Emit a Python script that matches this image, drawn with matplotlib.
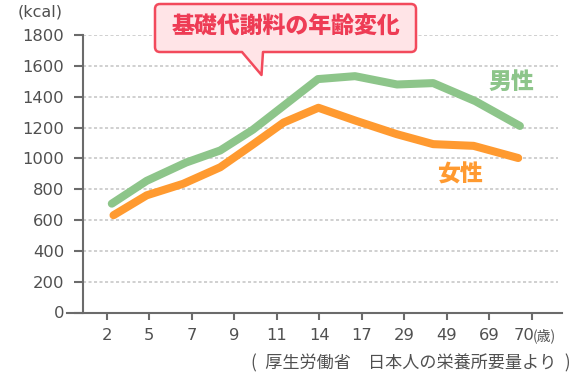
import matplotlib
matplotlib.use("Agg")
import matplotlib.pyplot as plt
from matplotlib.path import Path
from matplotlib.patches import PathPatch

plt.rcParams["font.family"] = ["Noto Sans CJK JP", "DejaVu Sans"]

# age categories on the x axis
ages = ["2", "5", "7", "9", "11", "14", "17", "29", "49", "69", "70"]

# line vertices (x in category-index units, y in kcal)
male_x = [0.12, 0.94, 1.87, 2.67, 3.44, 4.97, 5.84, 6.83, 7.68, 8.67, 9.72]
male_y = [706, 854, 973, 1051, 1186, 1514, 1533, 1479, 1488, 1371, 1210]
female_x = [0.16, 0.94, 1.80, 2.67, 3.45, 4.16, 4.98, 5.88, 6.82, 7.68, 8.63, 9.68]
female_y = [631, 760, 835, 942, 1092, 1232, 1328, 1242, 1157, 1092, 1081, 1002]

yticks = [0, 200, 400, 600, 800, 1000, 1200, 1400, 1600, 1800]

W, H = 580, 376
fig = plt.figure(figsize=(W / 100, H / 100), dpi=100)
ax = fig.add_axes([67 / W, 1 - 312.5 / H, 495 / W, 277.5 / H])

xmin, xmax = -0.934, 10.71
yaxis_x = -0.558
ax.set_xlim(xmin, xmax)
ax.set_ylim(0, 1800)

axis_col = "#6b6b6b"
text_col = "#505050"
green = "#8dc58a"
orange = "#ff9a30"
num_font = "DejaVu Sans"

# dotted grid lines
for v in yticks[1:]:
    ax.plot([yaxis_x, 10.62], [v, v], color="#c4c4c4", lw=1.1,
            linestyle=(0, (2, 1.6)), zorder=1)

ax.plot(male_x, male_y, color=green, lw=5.8, solid_capstyle="round",
        solid_joinstyle="round", zorder=3)
ax.plot(female_x, female_y, color=orange, lw=5.8, solid_capstyle="round",
        solid_joinstyle="round", zorder=4)

for s in ["top", "right"]:
    ax.spines[s].set_visible(False)
ax.spines["left"].set_position(("data", yaxis_x))
ax.spines["left"].set_bounds(0, 1800)
for s in ["left", "bottom"]:
    ax.spines[s].set_color(axis_col)
    ax.spines[s].set_linewidth(1.5)

ax.set_yticks(yticks)
ax.set_yticklabels([str(v) for v in yticks], family=num_font)
ax.tick_params(axis="y", direction="out", length=6.5, width=1.5, color=axis_col,
               labelsize=11.8, labelcolor=text_col, pad=7)
ax.set_xticks(range(len(ages)))
ax.set_xticklabels(ages[:-1] + [""], family=num_font)
ax.tick_params(axis="x", direction="out", length=5, width=1.5, color=axis_col,
               labelsize=11.8, labelcolor=text_col, pad=6)

# last tick label with unit
ax.text(9.57, -150, ages[-1], fontsize=11.8, family=num_font, color=text_col,
        ha="left", va="center")
ax.text(10.03, -150, "(歳)", fontsize=10, color=text_col, ha="left", va="center")

fig.text(40 / W, 1 - 12 / H, "(kcal)", fontsize=11.5, family=num_font,
         color=text_col, ha="center", va="center")

fig.text(511 / W, 1 - 82 / H, "男性", fontsize=16.5, color=green,
         fontweight="heavy", ha="center", va="center")
fig.text(460 / W, 1 - 175 / H, "女性", fontsize=16.5, color=orange,
         fontweight="heavy", ha="center", va="center")

fig.text(571 / W, 1 - 363 / H, "(\u2002厚生労働省\u3000日本人の栄養所要量より\u2002)",
         fontsize=12.3, color=text_col, ha="right", va="center")

# speech-bubble title
def fx(px):
    return px / W


def fy(py):
    return 1 - py / H


x0, x1, y0, y1, r = 155, 416, 4, 52, 5
verts = [
    (x0 + r, y0), (x1 - r, y0), (x1, y0), (x1, y0 + r),
    (x1, y1 - r), (x1, y1), (x1 - r, y1),
    (263, y1), (261.5, 75), (242, y1),
    (x0 + r, y1), (x0, y1), (x0, y1 - r),
    (x0, y0 + r), (x0, y0), (x0 + r, y0),
]
codes = [Path.MOVETO, Path.LINETO, Path.CURVE3, Path.CURVE3,
         Path.LINETO, Path.CURVE3, Path.CURVE3,
         Path.LINETO, Path.LINETO, Path.LINETO,
         Path.LINETO, Path.CURVE3, Path.CURVE3,
         Path.LINETO, Path.CURVE3, Path.CURVE3]
bubble = Path([(fx(a), fy(b)) for a, b in verts], codes)
fig.add_artist(PathPatch(bubble, transform=fig.transFigure, facecolor="#ffe4e7",
                         edgecolor="#f24a5c", lw=1.8, joinstyle="round", zorder=5))
fig.text(285.5 / W, 1 - 27.5 / H, "基礎代謝料の年齢変化", fontsize=16.5,
         fontweight="heavy", color="#ee3c55", ha="center", va="center", zorder=6)

fig.savefig("out.png", dpi=100)
